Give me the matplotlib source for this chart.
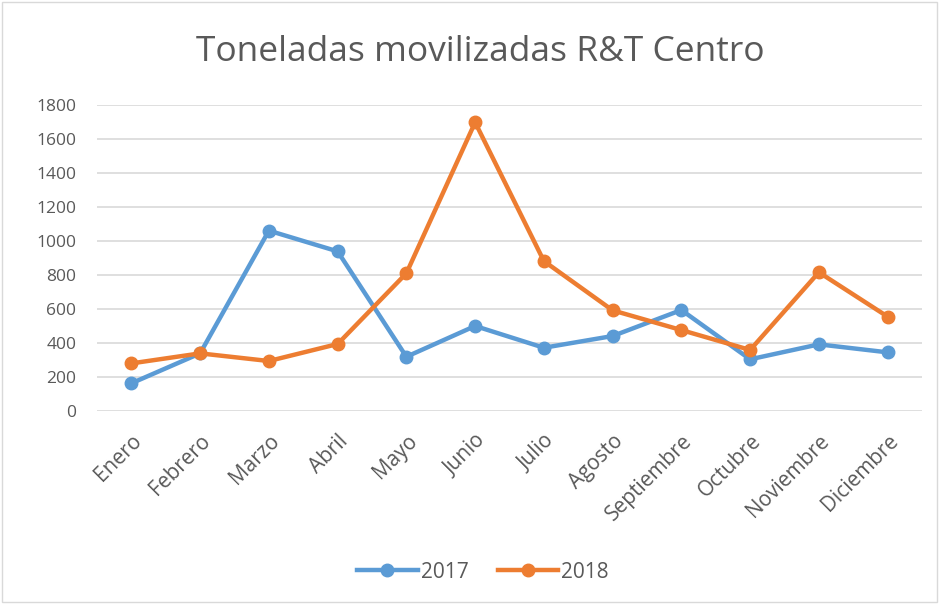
import matplotlib
matplotlib.use('Agg')
import matplotlib.pyplot as plt
from matplotlib.patches import Rectangle

meses = ['Enero', 'Febrero', 'Marzo', 'Abril', 'Mayo', 'Junio', 'Julio',
         'Agosto', 'Septiembre', 'Octubre', 'Noviembre', 'Diciembre']
t2017 = [163, 339, 1061, 939, 319, 500, 372, 441, 594, 304, 392, 345]
t2018 = [280, 339, 294, 394, 810, 1698, 882, 592, 476, 359, 816, 555]
yticks = [0, 200, 400, 600, 800, 1000, 1200, 1400, 1600, 1800]

gris = '#595959'
plt.rcParams['font.family'] = ['Open Sans', 'DejaVu Sans']

fig = plt.figure(figsize=(9.39, 6.04), dpi=100)
ax = fig.add_axes([97/939, 1 - 411/604, 825/939, 306/604])

x = list(range(len(meses)))
ax.plot(x, t2017, '-o', color='#5B9BD5', lw=3.2, ms=9, label='2017', zorder=3)
ax.plot(x, t2018, '-o', color='#ED7D31', lw=3.2, ms=9, label='2018', zorder=4)

ax.set_xlim(-0.5, 11.5)
ax.set_ylim(0, 1800)
ax.set_yticks(yticks)
ax.set_yticklabels([str(v) for v in yticks], fontsize=12.5, color=gris)
ax.set_xticks(x)
ax.set_xticklabels(meses, rotation=45, ha='right', rotation_mode='anchor',
                   fontsize=15, color=gris)
ax.tick_params(axis='y', length=0, pad=15)
ax.tick_params(axis='x', length=0, pad=14)
ax.grid(axis='y', color='#D9D9D9', lw=1.2)
ax.set_axisbelow(True)
for s in ax.spines.values():
    s.set_visible(False)

fig.text(480/939, 1 - 52/604, 'Toneladas movilizadas R&T Centro',
         ha='center', va='center', fontsize=25.5, color=gris)

fig.legend(loc='center', bbox_to_anchor=(483/939, 1 - 572/604), ncol=2,
           frameon=False, fontsize=15, labelcolor=gris, handlelength=2.9,
           columnspacing=1.4, handletextpad=0.15)

fig.patches.append(Rectangle((2/939, 2/604), 1 - 4/939, 1 - 4/604,
                             transform=fig.transFigure, fill=False,
                             edgecolor='#D9D9D9', lw=1))

fig.savefig('out.png', dpi=100)
